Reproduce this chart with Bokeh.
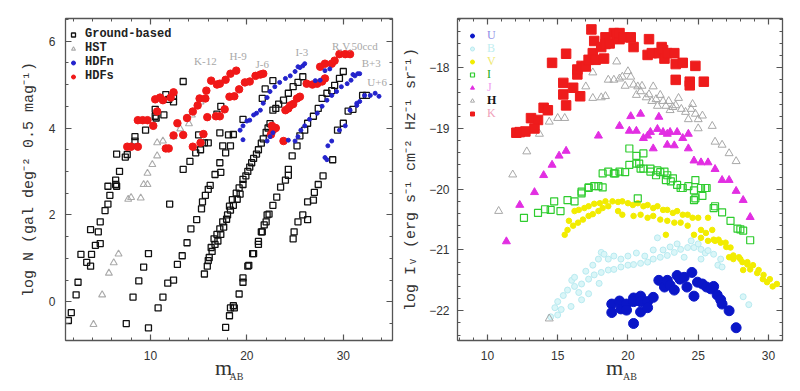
from bokeh.plotting import figure
from bokeh.models import Range1d, LinearAxis, SingleIntervalTicker, FixedTicker, Label, Legend, LegendItem
from bokeh.layouts import row
from bokeh.embed import file_html
from bokeh.resources import INLINE

# ---------------- LEFT PANEL DATA (log N vs m_AB) ----------------
gb_x = [1.5, 1.8, 2.3, 2.5, 2.8, 3.4, 3.8, 3.9, 3.8, 4.3, 4.6, 4.8, 4.8, 5.3, 5.6, 5.8, 5.6, 6.5, 6.4, 6.4,
        6.8, 6.5, 7.4, 7.6, 8.4, 8.4, 9.5, 10.5, 10.5, 10.6, 11.4, 11.6, 11.9, 12.4, 12.4, 13.4,
        7.5, 8.2, 8.8, 9.3, 9.8, 12.0, 13.4, 14.1, 14.7, 15.2, 15.0, 15.6, 16.0, 16.9, 17.3,
        9.8, 10.8, 11.3, 11.8, 12.4, 12.8, 13.3, 13.8, 14.2, 14.8, 15.3, 15.4, 15.7, 16.0, 16.2, 16.7,
        17.3, 17.2, 17.8, 17.5, 18.3, 18.1, 17.2, 18.6, 19.6, 21.6, 21.9, 22.7,
        15.6, 15.9, 16.0, 16.1, 16.4, 16.3, 16.7, 16.6, 16.9, 17.0, 17.2, 17.3, 17.5, 17.6, 18.0, 17.9,
        18.3, 18.2, 18.6, 18.5, 19.0, 18.9, 19.3, 19.2, 19.6, 19.6, 19.9, 20.1, 20.3, 20.5, 20.7, 21.0,
        21.2, 21.5, 21.7, 22.0, 22.2, 22.4, 22.7, 23.0, 23.3, 23.8, 24.3, 24.8, 25.3, 25.8,
        17.8, 18.2, 18.3, 18.6, 18.7, 19.2, 19.6, 19.6, 20.1, 20.2, 20.6, 20.7, 21.2, 21.2, 21.5, 21.6,
        21.8, 22.0, 22.1, 22.3, 22.7, 23.1, 23.5, 24.0, 24.3, 24.3, 24.7, 25.2, 25.5, 26.0, 26.3, 26.9,
        27.4, 27.8, 28.3, 28.8, 29.1, 29.6, 30.0,
        24.8, 24.9, 25.3, 25.8, 26.3, 26.3, 26.9, 27.0, 27.4, 27.9, 28.9, 29.4, 30.0, 30.5, 31.0, 32.0, 32.4]
gb_y = [-0.43, -0.25, 0.16, 0.45, 1.09, 0.91, 0.82, 1.09, 1.66, 1.3, 1.61, 1.34, 1.84, 2.1, 2.25, 2.45, 2.66, 2.66, 2.7, 2.8,
        3.0, 3.4, 3.33, 3.39, 3.7, 3.8, 3.95, 4.27, 4.43, 4.23, 4.3, 4.77, 4.66, 4.73, 4.6, 5.07,
        -0.5, 0.11, 0.48, 0.8, 1.11, 2.25, 3.05, 3.23, 3.43, 3.5, 3.84, 3.66, 3.66, 4.32, 4.5,
        -0.6, -0.14, 0.11, 0.43, 0.5, 0.86, 1.06, 1.36, 1.68, 1.89, 2.14, 2.3, 2.45, 2.59, 2.68, 2.93,
        2.98, 3.2, 3.43, 3.59, 3.59, 3.84, 3.89, 3.85, 4.2, 4.68, 4.9, 5.09,
        0.64, 0.82, 0.95, 1.02, 1.16, 1.25, 1.32, 1.45, 1.55, 1.4, 1.68, 1.55, 1.84, 1.72, 2.0, 1.9,
        2.11, 2.2, 2.22, 2.35, 2.36, 2.5, 2.48, 2.62, 2.7, 2.82, 2.9, 3.0, 3.1, 3.2, 3.3, 3.4,
        3.5, 3.65, 3.75, 3.9, 4.0, 4.1, 4.41, 4.45, 4.55, 4.64, 4.8, 4.95, 5.05, 5.18,
        -0.59, -0.32, -0.14, -0.09, -0.14, 0.18, 0.45, 0.55, 0.82, 0.84, 1.11, 1.11, 1.32, 1.39, 1.61, 1.61,
        1.77, 1.84, 2.0, 2.02, 2.22, 2.41, 2.64, 2.8, 2.91, 3.05, 3.36, 3.59, 3.82, 3.95, 4.11, 4.27,
        4.45, 4.68, 4.8, 4.86, 4.98, 5.14, 5.3,
        1.45, 1.61, 1.84, 2.0, 1.89, 2.3, 2.34, 2.52, 2.7, 2.9, 3.27, 3.95, 4.11, 4.39, 4.43, 4.75, 4.75]

hst_x = [4.1, 5.0, 5.7, 6.2, 6.7, 7.7, 8.0, 9.0, 9.3, 9.7, 9.7, 10.2, 10.7, 11.3, 10.7, 12.4, 13.1, 14.0, 14.3, 15.2]
hst_y = [-0.52, 0.16, 0.66, 0.9, 1.1, 2.36, 2.4, 2.39, 2.7, 2.7, 2.96, 3.16, 3.36, 3.7, 3.66, 3.8, 3.98, 4.1, 4.3, 4.6]

hdfn_x = [19.3, 19.6, 20.0, 20.3, 20.7, 21.0, 21.4, 21.7, 22.1, 22.4, 22.9, 23.4, 24.0, 24.5, 25.0, 25.3, 25.5, 25.8, 26.0,
          19.6, 22.1, 22.4, 22.7, 24.3,
          25.0, 25.3, 25.6, 26.0, 26.5, 27.3, 27.8, 28.3, 28.8, 29.3, 29.8, 30.4, 30.8, 31.2, 31.7,
          27.1, 27.6, 28.1, 28.6, 31.0, 31.5,
          28.1, 28.3, 28.4, 28.8, 29.6, 30.2, 30.7, 31.4, 31.4, 31.7, 32.2, 32.8, 33.3, 33.7]
hdfn_y = [3.95, 4.05, 4.16, 4.18, 4.3, 4.34, 4.41, 4.57, 4.7, 4.84, 4.95, 5.05, 5.14, 5.2, 5.3, 5.41, 5.39, 5.43, 5.48,
          3.73, 3.7, 3.8, 3.89, 3.72,
          3.7, 3.8, 3.95, 4.05, 4.2, 4.34, 4.5, 4.64, 4.75, 4.84, 4.95, 5.02, 5.1, 5.2, 5.25,
          5.09, 5.1, 5.32, 5.36, 5.23, 5.25,
          3.32, 3.27, 3.59, 3.7, 3.95, 4.05, 4.41, 4.52, 4.57, 4.61, 4.75, 4.75, 4.8, 4.73]

hdfs_x = [7.6, 8.0, 8.7, 8.7, 9.2, 9.7, 10.3, 10.5, 10.7, 11.3, 11.0, 12.4, 12.1,
          11.6, 11.9, 12.4, 13.4, 12.8, 13.8, 14.4, 14.9, 15.1, 15.7, 15.8, 16.3, 16.9, 17.2, 17.8, 18.3, 18.9,
          14.4, 15.2, 15.5, 15.9, 16.8, 17.2, 17.7, 18.2, 18.7, 19.2, 19.8, 20.3, 20.9, 21.4, 21.7,
          22.5, 22.7, 23.0, 22.6, 23.8, 24.0, 24.3, 24.5, 24.8, 25.2, 25.5,
          26.2, 26.8, 27.3, 27.8, 28.1, 27.6, 28.1, 28.8, 29.1, 29.6, 30.2, 30.7]
hdfs_y = [3.57, 3.57, 3.57, 4.18, 4.18, 4.18, 4.05, 4.66, 4.38, 4.64, 4.7, 4.82, 4.7,
          3.53, 3.53, 3.83, 3.84, 4.11, 4.23, 4.38, 4.52, 4.68, 4.68, 4.86, 5.09, 5.0, 5.02, 5.11, 5.25, 5.32,
          3.57, 3.66, 3.86, 4.25, 4.27, 4.27, 4.43, 4.72, 4.73, 4.89, 5.05, 5.07, 5.2, 5.23, 5.25,
          3.85, 3.95, 4.0, 4.05, 3.7, 4.41, 4.45, 4.52, 4.55, 4.68, 4.72,
          5.02, 5.0, 5.02, 5.07, 5.14, 5.41, 5.48, 5.48, 5.55, 5.7, 5.7, 5.7]

band_labels = ["K-12", "H-9", "J-6", "I-3", "R,V,50ccd", "B+3", "U+6"]
band_label_x = [15.7, 19.1, 21.6, 25.7, 31.2, 32.9, 33.5]
band_label_y = [5.55, 5.66, 5.48, 5.75, 5.89, 5.5, 5.07]

# ---------------- RIGHT PANEL DATA (log I_nu vs m_AB) ----------------
k_x = [12.06, 12.3, 12.7, 13.1, 13.6, 13.35, 14.0, 14.3, 14.6, 15.4, 15.4, 15.6, 15.6, 16.1, 16.4, 16.4, 16.6, 16.7,
       17.0, 17.2, 17.4, 17.6, 17.5, 17.7, 18.1, 18.3, 18.4, 18.4, 18.7, 19.0, 19.2, 19.4, 19.4, 19.7, 20.2, 20.4,
       21.5, 21.4, 21.7, 22.2, 22.4, 22.5, 22.6, 22.8, 23.3, 23.4, 23.4, 23.9, 24.4, 24.4, 24.8, 25.4]
k_y = [-19.07, -19.06, -19.05, -18.83, -18.86, -19.0, -18.66, -18.7, -17.92, -18.25, -18.44, -17.77, -18.62, -18.33,
       -18.11, -18.03, -18.47, -17.97, -17.98, -17.87, -17.37, -17.56, -17.76, -17.87, -17.66, -17.85, -17.5, -17.61,
       -17.6, -17.43, -17.46, -17.53, -17.43, -17.5, -17.5, -17.66, -17.53, -17.79, -17.76, -17.76, -17.66, -17.71,
       -17.85, -17.76, -17.76, -17.94, -18.2, -17.92, -18.23, -18.29, -17.97, -18.23]

h_x = [10.8, 11.8, 12.8, 13.7, 14.4, 14.4, 15.0, 15.5, 17.0, 17.5, 17.5, 18.1, 18.4, 18.6, 19.0, 19.2, 19.4, 19.6,
       19.8, 20.0, 20.2, 20.4, 20.6, 20.7, 20.9, 21.0, 21.3, 21.5, 21.7, 21.8, 22.0, 22.1, 22.3, 22.5, 22.7, 22.9,
       23.0, 23.2, 23.4, 23.6, 23.8, 24.1, 24.3, 24.5, 24.6, 24.8, 25.0, 25.0, 25.3, 26.0, 26.2, 26.7, 27.2, 27.7]
h_y = [-20.36, -19.76, -19.38, -19.09, -18.89, -22.13, -18.83, -18.83, -18.31, -18.08, -18.5, -18.49, -18.47, -18.2,
       -18.2, -17.9, -18.18, -18.15, -18.3, -18.06, -18.15, -18.28, -18.45, -18.31, -18.39, -18.3, -18.49, -18.44,
       -18.55, -18.31, -18.52, -18.63, -18.45, -18.55, -18.63, -18.55, -18.7, -18.65, -18.62, -18.5, -18.68, -18.73,
       -18.85, -18.68, -18.6, -18.76, -18.85, -19.0, -18.79, -18.96, -19.22, -19.27, -19.41, -19.54]

j_x = [11.35, 12.3, 13.35, 14.0, 14.6, 15.1, 15.6, 17.9, 19.4, 20.2, 20.9, 20.1, 20.6, 21.1, 21.4, 21.6, 21.8, 22.1,
       22.2, 22.5, 22.8, 23.0, 22.8, 23.3, 23.5, 23.9, 24.3, 24.3, 24.7, 25.2, 25.7, 26.2, 26.7, 27.2, 27.7, 28.2, 28.7]
j_y = [-20.86, -20.26, -20.05, -19.77, -19.6, -19.45, -19.37, -19.12, -18.96, -18.8, -18.76, -19.04, -19.04, -19.16,
       -19.12, -19.06, -19.33, -19.01, -18.81, -19.06, -19.09, -19.06, -19.27, -19.28, -19.06, -19.16, -19.33, -19.09,
       -19.53, -19.56, -19.56, -19.67, -19.85, -19.85, -20.03, -20.18, -20.46]

i_x = [12.6, 13.6, 14.1, 14.5, 14.75, 15.2, 15.7, 16.2, 16.7, 16.7, 17.2, 17.2, 17.6, 17.9, 18.2, 18.2, 18.6, 19.0,
       19.1, 19.4, 19.8, 20.1, 20.1, 20.6, 20.6, 20.7, 20.8, 20.9, 21.1, 21.1, 21.6, 21.6, 22.0, 22.1, 22.3, 22.6,
       22.7, 22.8, 23.05, 23.2, 23.5, 23.75, 23.9, 24.3, 24.7, 24.7, 24.8, 24.8, 25.2, 25.3, 25.5, 25.6, 26.1, 26.2,
       26.7, 27.3, 27.8, 28.0, 28.2, 28.7]
i_y = [-20.47, -20.39, -20.33, -20.34, -20.2, -20.36, -20.18, -20.2, -20.07, -20.04, -19.98, -19.97, -19.95, -19.95,
       -19.74, -19.97, -19.71, -19.74, -19.74, -19.71, -19.72, -19.33, -19.6, -19.58, -19.45, -20.15, -19.58, -19.66,
       -19.41, -19.66, -19.66, -19.71, -19.77, -19.69, -19.72, -19.71, -19.85, -19.77, -19.87, -19.82, -19.93, -19.98,
       -19.98, -19.95, -20.02, -20.18, -19.85, -20.15, -19.98, -20.11, -19.98, -19.98, -20.31, -20.28, -20.38, -20.52,
       -20.65, -20.66, -20.68, -20.84]

v_x = [15.5, 15.7, 16.1, 16.45, 16.8, 17.2, 17.5, 17.9, 18.2, 18.6, 15.8, 16.2, 16.5, 16.9, 17.2, 17.6, 18.0, 18.4,
       18.9, 19.3, 19.6, 20.0, 20.35, 20.7, 21.1, 21.4, 21.8, 22.1, 22.5, 22.8, 23.2, 23.5, 23.9, 24.25, 24.6, 25.0,
       19.3, 19.6, 20.4, 20.9, 21.4, 21.8, 22.3, 22.8, 23.3, 23.75, 24.25, 22.7, 25.2, 25.55, 25.7, 26.0, 26.1, 26.45,
       26.95, 27.3, 27.2, 27.5, 27.9, 28.15, 28.5, 28.2, 28.7, 29.2, 29.6, 29.9, 30.3, 24.7, 25.2, 25.7, 26.2, 26.6,
       27.0, 27.5, 28.0, 28.5, 28.9, 29.3, 29.65, 30.1, 30.6]
v_y = [-20.75, -20.67, -20.6, -20.55, -20.5, -20.44, -20.41, -20.36, -20.31, -20.28, -20.52, -20.36, -20.34, -20.31,
       -20.28, -20.24, -20.23, -20.2, -20.2, -20.21, -20.2, -20.23, -20.26, -20.23, -20.28, -20.26, -20.31, -20.28,
       -20.34, -20.34, -20.39, -20.36, -20.42, -20.42, -20.47, -20.47, -20.36, -20.42, -20.44, -20.42, -20.47, -20.44,
       -20.5, -20.52, -20.55, -20.55, -20.6, -20.75, -20.67, -20.72, -20.47, -20.67, -20.83, -20.83, -20.88, -20.96,
       -21.12, -21.15, -21.12, -21.2, -21.24, -21.33, -21.32, -21.38, -21.48, -21.53, -21.6, -20.75, -20.8, -20.85,
       -20.85, -20.88, -20.95, -21.09, -21.15, -21.2, -21.25, -21.33, -21.41, -21.48, -21.56]

b_x = [14.5, 14.8, 15.0, 15.0, 15.25, 15.4, 15.7, 15.95, 16.0, 16.2, 16.2, 16.5, 16.7, 16.7, 17.0, 17.2, 17.2, 17.5,
       17.6, 17.9, 17.95, 18.1, 18.1, 18.3, 18.6, 18.6, 19.0, 19.0, 19.5, 19.5, 20.0, 20.0, 20.4, 20.6, 20.9, 21.2,
       21.4, 21.8, 21.8, 22.1, 22.3, 22.5, 22.8, 23.0, 23.3, 23.5, 23.75, 24.0, 24.25, 24.5, 24.7, 25.0, 25.2, 25.2,
       25.5, 25.7, 26.1, 26.4, 26.6, 26.7, 28.2, 28.6]
b_y = [-22.1, -21.95, -21.85, -22.07, -21.98, -21.75, -21.66, -21.93, -21.5, -21.6, -21.45, -21.7, -21.56, -21.82,
       -21.35, -21.48, -21.72, -21.25, -21.41, -21.15, -21.55, -21.37, -21.04, -21.07, -21.33, -21.15, -21.32, -21.1,
       -21.28, -21.15, -21.25, -21.1, -21.24, -21.05, -21.22, -21.1, -21.2, -21.15, -21.0, -20.8, -21.12, -21.0,
       -21.09, -20.95, -21.04, -20.9, -20.99, -21.12, -20.96, -20.85, -20.96, -20.9, -20.99, -21.15, -21.05, -21.01,
       -21.07, -21.25, -21.15, -21.28, -21.77, -21.9]

u_x = [18.85, 18.85, 19.4, 19.5, 19.9, 19.9, 20.4, 20.4, 20.4, 20.9, 20.9, 20.9, 21.4, 21.4, 21.8, 22.2, 22.6, 22.8,
       23.0, 23.3, 23.5, 23.7, 24.0, 24.2, 24.55, 24.7, 24.95, 25.3, 25.6, 25.9, 26.1, 26.35, 26.6, 26.7, 27.2, 27.7]
u_y = [-21.89, -22.03, -21.84, -21.97, -21.89, -21.99, -21.79, -21.85, -22.21, -21.76, -21.85, -22.02, -21.85, -21.95,
       -21.78, -21.5, -21.61, -21.5, -21.58, -21.66, -21.42, -21.48, -21.45, -21.61, -21.37, -21.76, -21.53, -21.56,
       -21.61, -21.64, -21.6, -21.74, -21.82, -21.89, -22.0, -22.28]

AXC = "#555555"
TXC = "#333333"
FS = "\u2007"  # figure space used to nudge centred axis labels


def frame_axes(p, xint, xminor, yint, yminor):
    p.add_layout(LinearAxis(), "above")
    p.add_layout(LinearAxis(), "right")
    for ax in p.xaxis:
        ax.ticker = SingleIntervalTicker(interval=xint, num_minor_ticks=xminor)
    for ax in p.yaxis:
        ax.ticker = SingleIntervalTicker(interval=yint, num_minor_ticks=yminor)
    for ax in p.xaxis + p.yaxis:
        ax.major_tick_in = 6
        ax.major_tick_out = 0
        ax.minor_tick_in = 3
        ax.minor_tick_out = 0
        ax.axis_line_color = AXC
        ax.major_tick_line_color = AXC
        ax.minor_tick_line_color = AXC
        ax.axis_line_width = 1.3
        ax.major_tick_line_width = 1.2
        ax.major_label_text_font = "Liberation Sans"
        ax.major_label_text_font_size = "12px"
        ax.major_label_text_color = TXC
        ax.major_label_standoff = 9
        ax.axis_label_text_font = "Liberation Mono"
        ax.axis_label_text_font_size = "15px"
        ax.axis_label_text_font_style = "normal"
        ax.axis_label_text_color = TXC
    for ax in p.above + p.right:
        ax.major_label_text_color = None
        ax.major_label_text_font_size = "1px"
        ax.major_label_standoff = 0
    p.xgrid.visible = False
    p.ygrid.visible = False
    p.outline_line_color = AXC


def mab_label(p, m_text, ab_text):
    ax = p.below[0]
    ax.major_label_standoff = 10
    ax.axis_label = m_text
    ax.axis_label_text_font = "Liberation Serif"
    ax.axis_label_text_font_size = "22px"
    ax.axis_label_standoff = -8
    sub = LinearAxis(ticker=FixedTicker(ticks=[]), axis_line_color=None, major_tick_line_color=None,
                     minor_tick_line_color=None, major_label_text_color=None, major_label_text_font_size="1px",
                     major_label_standoff=0, major_tick_in=0, major_tick_out=0, minor_tick_in=0, minor_tick_out=0,
                     axis_label=ab_text, axis_label_text_font="Liberation Serif", axis_label_text_font_size="10px",
                     axis_label_text_font_style="normal", axis_label_text_color=TXC, axis_label_standoff=-12)
    p.add_layout(sub, "below")


# ---------------- LEFT FIGURE ----------------
p1 = figure(width=400, height=391, x_range=Range1d(1.2, 35.1), y_range=Range1d(-0.89, 6.52),
            output_backend="svg", toolbar_location=None,
            min_border_left=65, min_border_right=8, min_border_top=14, min_border_bottom=51)
frame_axes(p1, 10, 5, 2, 4)
p1.yaxis[0].axis_label = "log N (gal deg\u207b\u00b2 0.5 mag\u207b\u00b9)"
p1.yaxis[0].axis_label_standoff = 8
p1.yaxis[0].major_label_standoff = 10
mab_label(p1, "m" + FS, FS * 3 + "AB")

r_gb = p1.scatter(gb_x, gb_y, marker="square", size=6, fill_color=None, line_color="#111111", line_width=1.3)
r_hst = p1.scatter(hst_x, hst_y, marker="triangle", size=7, fill_color=None, line_color="#aaaaaa", line_width=1.1)
r_hdfs = p1.scatter(hdfs_x, hdfs_y, marker="circle", size=7.5, fill_color="#f01818", line_color="#f01818")
r_hdfn = p1.scatter(hdfn_x, hdfn_y, marker="circle", size=4, fill_color="#2323cc", line_color="#2323cc")

for t, x, y in zip(band_labels, band_label_x, band_label_y):
    p1.add_layout(Label(x=x, y=y, text=t, text_align="center", text_baseline="middle",
                        text_font="Liberation Serif", text_font_size="11px", text_color="#a8a8a8"))

leg1 = Legend(items=[LegendItem(label="Ground-based", renderers=[r_gb]),
                     LegendItem(label="HST", renderers=[r_hst]),
                     LegendItem(label="HDFn", renderers=[r_hdfn]),
                     LegendItem(label="HDFs", renderers=[r_hdfs])],
              location=(3, 257), spacing=0, padding=0, margin=0, glyph_width=10, glyph_height=13,
              label_height=13, label_standoff=7, border_line_alpha=0, background_fill_alpha=0,
              label_text_font="Liberation Mono", label_text_font_size="12px", label_text_font_style="bold",
              label_text_color="#222222")
p1.add_layout(leg1)

# ---------------- RIGHT FIGURE ----------------
p2 = figure(width=400, height=391, x_range=Range1d(7.87, 31.0), y_range=Range1d(-22.49, -17.19),
            output_backend="svg", toolbar_location=None,
            min_border_left=56, min_border_right=18, min_border_top=18, min_border_bottom=47)
frame_axes(p2, 5, 5, 1, 5)
p2.yaxis[0].axis_label = "log I\u1d65 (erg s\u207b\u00b9 cm\u207b\u00b2 Hz\u207b\u00b9 sr\u207b\u00b9)"
p2.yaxis[0].axis_label_standoff = 6
p2.yaxis[0].major_label_standoff = 8
mab_label(p2, "m" + FS, FS * 4 + "AB")

r_b = p2.scatter(b_x, b_y, marker="circle", size=6, fill_color="#daf6f8", line_color="#b8eaf0", line_width=1)
r_v = p2.scatter(v_x, v_y, marker="circle", size=5.5, fill_color="#f2ec00", line_color="#f2ec00")
r_i = p2.scatter(i_x, i_y, marker="square", size=7, fill_color=None, line_color="#2ecc2e", line_width=1.2)
r_j = p2.scatter(j_x, j_y, marker="triangle", size=8, fill_color="#e22ee2", line_color="#e22ee2")
r_h = p2.scatter(h_x, h_y, marker="triangle", size=8, fill_color=None, line_color="#a8a8a8", line_width=1)
r_k = p2.scatter(k_x, k_y, marker="square", size=9.5, fill_color="#ee1c1c", line_color="#ee1c1c")
r_u = p2.scatter(u_x, u_y, marker="circle", size=10, fill_color="#0a16c8", line_color="#0a16c8")

leg_names = ["U", "B", "V", "I", "J", "H", "K"]
leg_rends = [r_u, r_b, r_v, r_i, r_j, r_h, r_k]
leg_colors = ["#8c8ce6", "#bfeef0", "#eee870", "#22aa22", "#f09cf0", "#111111", "#f0a0b8"]
for n, (name, rr, col) in enumerate(zip(leg_names, leg_rends, leg_colors)):
    center = 22 + 13 * n
    lg = Legend(items=[LegendItem(label=name, renderers=[rr])],
                location=(10, 326 - center - 6.5), spacing=0, padding=0, margin=0,
                glyph_width=10, glyph_height=13, label_height=13, label_standoff=10,
                border_line_alpha=0, background_fill_alpha=0,
                label_text_font="Liberation Serif", label_text_font_size="12px",
                label_text_font_style="bold" if name == "H" else "normal", label_text_color=col)
    p2.add_layout(lg)

layout = row(p1, p2)
open("out.html", "w").write(file_html(layout, INLINE))
